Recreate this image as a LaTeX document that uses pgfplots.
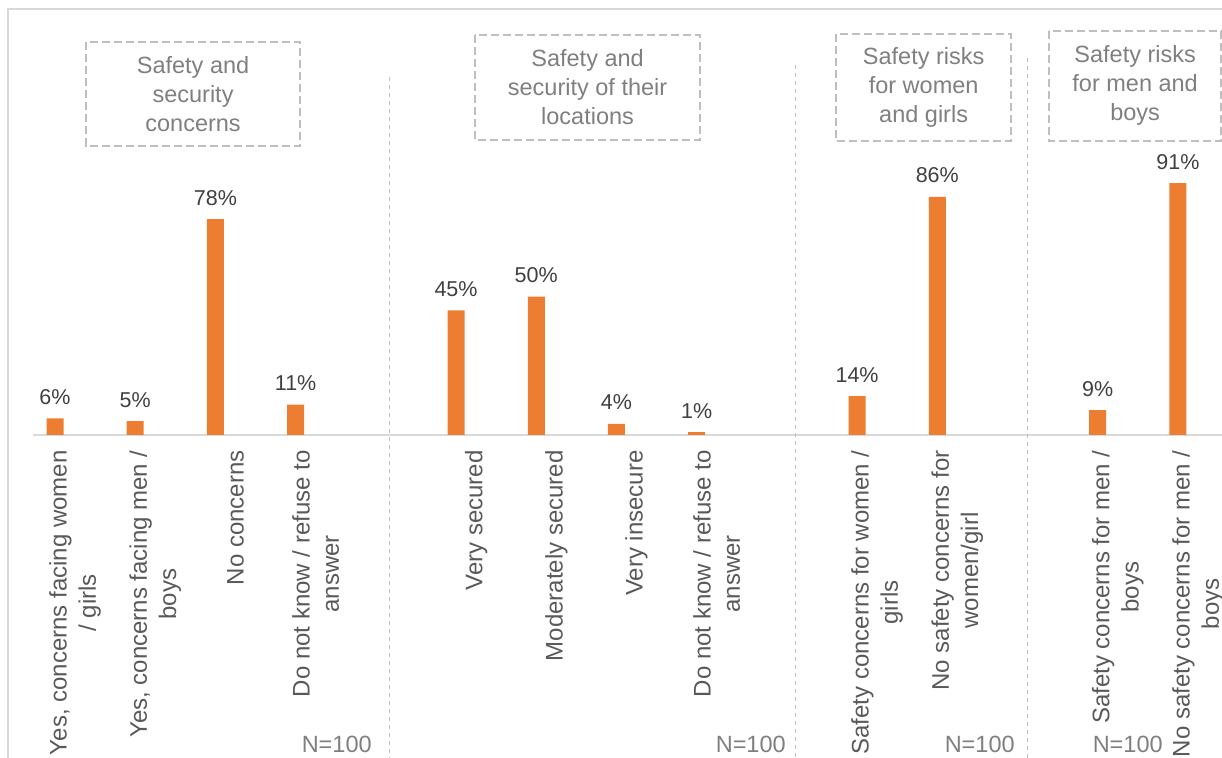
\documentclass[border=0pt]{standalone}
\usepackage{pgfplots}
\pgfplotsset{compat=1.18}
\usepackage{fontspec}
\setmainfont{Liberation Sans}
\definecolor{barorange}{HTML}{ED7D31}
\definecolor{lbl}{HTML}{595959}
\definecolor{dlbl}{HTML}{404040}
\definecolor{boxtxt}{HTML}{7F7F7F}
\definecolor{dashc}{HTML}{BFBFBF}
\definecolor{framec}{HTML}{D9D9D9}
\newcommand\mainf{\fontsize{11.75}{14.5}\selectfont}
\newcommand\tickf{\fontsize{12}{14.6}\selectfont}
\newcommand\dataf{\fontsize{10.75}{12}\selectfont}
\begin{document}
\begin{tikzpicture}
\begin{axis}[
  scale only axis, width=594.5pt, height=217.5pt,
  xmin=-0.274, xmax=14.55, ymin=0, ymax=157.1,
  axis x line=bottom, axis y line=none,
  x axis line style={-, draw=framec, line width=1pt},
  xtick={0.25,1.25,2.25,3.25,5.25,6.25,7.25,8.25,10.25,11.25,13.25,14.25},
  xticklabels={
    {Yes, concerns facing women\\/ girls},
    {Yes, concerns facing men /\\boys},
    {No concerns},
    {Do not know / refuse to\\answer},
    {Very secured},
    {Moderately secured},
    {Very insecure},
    {Do not know / refuse to\\answer},
    {Safety concerns for women /\\girls},
    {No safety concerns for\\women/girl},
    {Safety concerns for men /\\boys},
    {No safety concerns for men /\\boys}},
  xtick style={draw=none},
  major tick length=0pt,
  xticklabel style={rotate=90, anchor=east, align=center, inner sep=0pt, font=\tickf, text=lbl},
  xticklabel shift=7.5pt,
  ytick=\empty,
  clip=false,
  /pgf/number format/assume math mode=true,
  ybar, bar width=8.5pt,
  nodes near coords={\pgfmathprintnumber[assume math mode=true]{\pgfplotspointmeta}\%},
  every node near coord/.append style={anchor=base, yshift=7pt, font=\dataf, text=dlbl, inner sep=0pt},
]
\addplot[fill=barorange, draw=none] coordinates {
  (0,6) (1,5) (2,78) (3,11)
  (5,45) (6,50) (7,4) (8,1)
  (10,14) (11,86)
  (13,9) (14,91)};

% frame
\draw[framec, line width=1pt] (axis cs:14.7,153.8) -- (axis cs:-0.586,153.8) -- (axis cs:-0.586,-125);

% separators
\draw[dashc, line width=0.5pt, dash pattern=on 2pt off 2pt] (axis cs:4.165,129.3) -- (axis cs:4.165,-118);
\draw[dashc, line width=0.5pt, dash pattern=on 2pt off 2pt] (axis cs:9.227,133.6) -- (axis cs:9.227,-118);
\draw[dashc, line width=0.5pt, dash pattern=on 2pt off 2pt] (axis cs:12.13,136.1) -- (axis cs:12.13,-118);

% boxes
\draw[dashc, line width=0.9pt, dash pattern=on 4pt off 2pt] (axis cs:0.387,141.9) rectangle (axis cs:3.055,104.4);
\node[text=boxtxt, align=center, font=\mainf] at (axis cs:1.721,123.15) {Safety and\\security\\concerns};
\draw[dashc, line width=0.9pt, dash pattern=on 4pt off 2pt] (axis cs:5.237,144.5) rectangle (axis cs:8.042,106.5);
\node[text=boxtxt, align=center, font=\mainf] at (axis cs:6.64,125.5) {Safety and\\security of their\\locations};
\draw[dashc, line width=0.9pt, dash pattern=on 4pt off 2pt] (axis cs:9.738,144.8) rectangle (axis cs:11.92,106.2);
\node[text=boxtxt, align=center, font=\mainf] at (axis cs:10.83,125.5) {Safety risks\\for women\\and girls};
\draw[dashc, line width=0.9pt, dash pattern=on 4pt off 2pt] (axis cs:12.394,145.9) rectangle (axis cs:14.54,106.2);
\node[text=boxtxt, align=center, font=\mainf] at (axis cs:13.467,126.3) {Safety risks\\for men and\\boys};

% N labels
\node[text=boxtxt, anchor=base east, inner sep=0pt, font=\mainf] at (axis cs:3.953,-114.8) {N=100};
\node[text=boxtxt, anchor=base east, inner sep=0pt, font=\mainf] at (axis cs:9.115,-114.8) {N=100};
\node[text=boxtxt, anchor=base east, inner sep=0pt, font=\mainf] at (axis cs:11.97,-114.8) {N=100};
\node[text=boxtxt, anchor=base east, inner sep=0pt, font=\mainf] at (axis cs:13.815,-114.8) {N=100};

\coordinate (bbA) at (axis cs:-0.686,157.1);
\coordinate (bbB) at (axis cs:14.55,-116.3);
\end{axis}
\pgfresetboundingbox
\path[use as bounding box] (bbA) rectangle (bbB);
\end{tikzpicture}
\end{document}
